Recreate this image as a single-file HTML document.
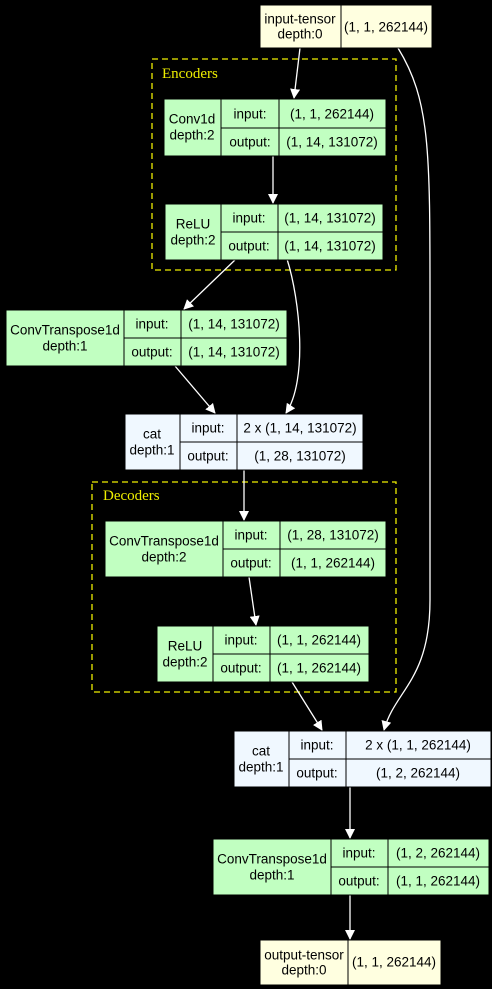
<!DOCTYPE html>
<html><head><style>
html,body{margin:0;padding:0;background:#000;}
svg{display:block;font-family:"Liberation Sans",Arial,sans-serif;}
text{font-size:13.5px;fill:#000;text-anchor:middle;dominant-baseline:central;}
.g{fill:#c1ffc1;stroke:#000;stroke-width:1}
.b{fill:#f0f8ff;stroke:#000;stroke-width:1}
.y{fill:#ffffe0;stroke:#000;stroke-width:1}
.e{stroke:#fff;stroke-width:1.3;fill:none;marker-end:url(#a)}
.c{fill:none;stroke:#eeee00;stroke-width:1.3;stroke-dasharray:6,4}
.cl{fill:#eeee00;font-family:"Liberation Serif",serif;font-size:15px;text-anchor:start}
</style></head><body>
<svg width="492" height="989" viewBox="0 0 492 989">
<defs><marker id="a" markerWidth="10" markerHeight="10" refX="9" refY="5" orient="auto" markerUnits="userSpaceOnUse"><path d="M0,0 L10,5 L0,10 z" fill="#fff"/></marker></defs>
<rect width="492" height="989" fill="#000"/>
<rect class="c" x="152" y="59" width="244" height="211"/>
<text class="cl" x="162" y="74">Encoders</text>
<rect class="c" x="92" y="482" width="304" height="210"/>
<text class="cl" x="103" y="496">Decoders</text>

<path class="e" d="M300,48 L294,98"/>
<path class="e" d="M398,48 C430,100 430,150 430,300 L430,600 C430,680 395,690 384,730"/>
<path class="e" d="M273,156 L273,203"/>
<path class="e" d="M236,259 L184,309"/>
<path class="e" d="M287,259 C300,300 308,380 286,413"/>
<path class="e" d="M175,366 L215,413"/>
<path class="e" d="M244,469 L244,520"/>
<path class="e" d="M249,577 L256,625"/>
<path class="e" d="M292,682 L322,730"/>
<path class="e" d="M350,787 L350,838"/>
<path class="e" d="M350,895 L350,939"/>

<rect class="y" x="260" y="5" width="81" height="43"/><rect class="y" x="341" y="5" width="91" height="43"/>
<text x="300" y="19">input-tensor</text><text x="300" y="34">depth:0</text>
<text x="386" y="27">(1, 1, 262144)</text>

<rect class="g" x="164" y="99" width="57" height="57"/>
<rect class="g" x="221" y="99" width="58" height="29"/><rect class="g" x="279" y="99" width="107" height="29"/>
<rect class="g" x="221" y="128" width="58" height="28"/><rect class="g" x="279" y="128" width="107" height="28"/>
<text x="192" y="119">Conv1d</text><text x="192" y="135">depth:2</text>
<text x="250" y="114">input:</text><text x="332" y="114">(1, 1, 262144)</text>
<text x="250" y="142">output:</text><text x="332" y="142">(1, 14, 131072)</text>

<rect class="g" x="165" y="204" width="56" height="56"/>
<rect class="g" x="221" y="204" width="57" height="28"/><rect class="g" x="278" y="204" width="105" height="28"/>
<rect class="g" x="221" y="232" width="57" height="28"/><rect class="g" x="278" y="232" width="105" height="28"/>
<text x="193" y="224">ReLU</text><text x="193" y="240">depth:2</text>
<text x="249" y="218">input:</text><text x="330" y="218">(1, 14, 131072)</text>
<text x="249" y="246">output:</text><text x="330" y="246">(1, 14, 131072)</text>

<rect class="g" x="6" y="310" width="118" height="56"/>
<rect class="g" x="124" y="310" width="57" height="28"/><rect class="g" x="181" y="310" width="106" height="28"/>
<rect class="g" x="124" y="338" width="57" height="28"/><rect class="g" x="181" y="338" width="106" height="28"/>
<text x="65" y="330">ConvTranspose1d</text><text x="65" y="346">depth:1</text>
<text x="152" y="324">input:</text><text x="234" y="324">(1, 14, 131072)</text>
<text x="152" y="352">output:</text><text x="234" y="352">(1, 14, 131072)</text>

<rect class="b" x="125" y="414" width="55" height="56"/>
<rect class="b" x="180" y="414" width="57" height="28"/><rect class="b" x="237" y="414" width="126" height="28"/>
<rect class="b" x="180" y="442" width="57" height="28"/><rect class="b" x="237" y="442" width="126" height="28"/>
<text x="152" y="434">cat</text><text x="152" y="450">depth:1</text>
<text x="208" y="428">input:</text><text x="300" y="428">2 x (1, 14, 131072)</text>
<text x="208" y="456">output:</text><text x="300" y="456">(1, 28, 131072)</text>

<rect class="g" x="105" y="521" width="118" height="56"/>
<rect class="g" x="223" y="521" width="57" height="28"/><rect class="g" x="280" y="521" width="106" height="28"/>
<rect class="g" x="223" y="549" width="57" height="28"/><rect class="g" x="280" y="549" width="106" height="28"/>
<text x="164" y="541">ConvTranspose1d</text><text x="164" y="557">depth:2</text>
<text x="251" y="535">input:</text><text x="333" y="535">(1, 28, 131072)</text>
<text x="251" y="563">output:</text><text x="333" y="563">(1, 1, 262144)</text>

<rect class="g" x="157" y="626" width="56" height="56"/>
<rect class="g" x="213" y="626" width="57" height="28"/><rect class="g" x="270" y="626" width="99" height="28"/>
<rect class="g" x="213" y="654" width="57" height="28"/><rect class="g" x="270" y="654" width="99" height="28"/>
<text x="185" y="646">ReLU</text><text x="185" y="662">depth:2</text>
<text x="241" y="640">input:</text><text x="319" y="640">(1, 1, 262144)</text>
<text x="241" y="668">output:</text><text x="319" y="668">(1, 1, 262144)</text>

<rect class="b" x="234" y="731" width="55" height="56"/>
<rect class="b" x="289" y="731" width="57" height="28"/><rect class="b" x="346" y="731" width="145" height="28"/>
<rect class="b" x="289" y="759" width="57" height="28"/><rect class="b" x="346" y="759" width="145" height="28"/>
<text x="261" y="751">cat</text><text x="261" y="767">depth:1</text>
<text x="317" y="745">input:</text><text x="418" y="745">2 x (1, 1, 262144)</text>
<text x="317" y="773">output:</text><text x="418" y="773">(1, 2, 262144)</text>

<rect class="g" x="213" y="839" width="118" height="56"/>
<rect class="g" x="331" y="839" width="57" height="28"/><rect class="g" x="388" y="839" width="101" height="28"/>
<rect class="g" x="331" y="867" width="57" height="28"/><rect class="g" x="388" y="867" width="101" height="28"/>
<text x="272" y="859">ConvTranspose1d</text><text x="272" y="875">depth:1</text>
<text x="359" y="853">input:</text><text x="438" y="853">(1, 2, 262144)</text>
<text x="359" y="881">output:</text><text x="438" y="881">(1, 1, 262144)</text>

<rect class="y" x="260" y="940" width="88" height="45"/><rect class="y" x="348" y="940" width="93" height="45"/>
<text x="304" y="955">output-tensor</text><text x="304" y="970">depth:0</text>
<text x="394" y="962">(1, 1, 262144)</text>
</svg>
</body></html>
